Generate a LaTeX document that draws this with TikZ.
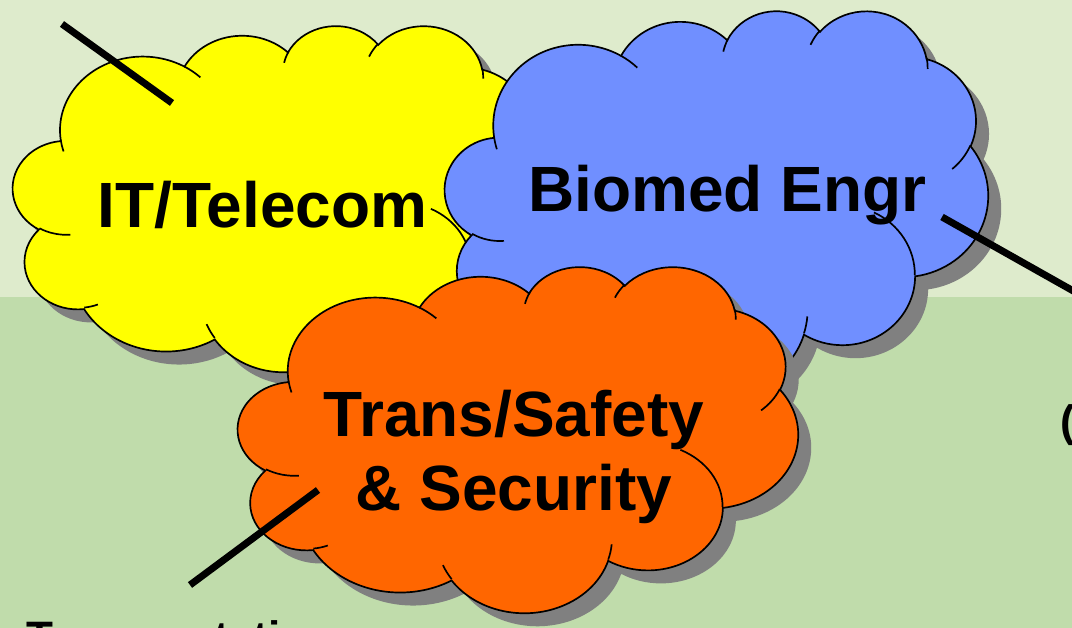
\documentclass[tikz,border=0pt]{standalone}
\usepackage{fontspec}
\setmainfont{Liberation Sans}
\definecolor{bgtop}{HTML}{DEEBCC}
\definecolor{bgbottom}{HTML}{C0DCAB}
\definecolor{cloudyellow}{HTML}{FFFF00}
\definecolor{cloudblue}{HTML}{708FFF}
\definecolor{cloudorange}{HTML}{FF6600}
\definecolor{cloudshadow}{HTML}{808080}
% one puff: x radius, y radius, start and sweep (seen angles)
\newcommand\puff[4]{arc[x radius=#1, y radius=#2,
	start angle={atan2(#1*sin(#3),#2*cos(#3))},
	delta angle={Mod(atan2(#1*sin(#3+#4),#2*cos(#3+#4))-atan2(#1*sin(#3),#2*cos(#3)),360)}]}
% cloud outline in a 43.2 x 43.2 box
\newcommand\cloudoutline{(3.900,14.370)
	\puff{6.753}{9.190}{-190.487}{123.781}
	\puff{5.333}{7.267}{-144.102}{89.945}
	\puff{4.365}{5.945}{-145.808}{99.723}
	\puff{4.857}{6.595}{-130.986}{117.242}
	\puff{5.333}{7.273}{-78.709}{109.027}
	\puff{6.775}{9.220}{-46.267}{130.269}
	\puff{5.785}{7.867}{0.625}{114.033}
	\puff{6.752}{9.215}{22.452}{115.173}
	\puff{7.720}{10.543}{66.243}{75.711}
	\puff{4.360}{5.918}{-274.942}{146.736}
	\puff{4.345}{5.945}{-246.829}{152.519} -- cycle}
% the little creases inside
\newcommand\cloudcreases{
	(4.693,26.177) \puff{4.345}{5.945}{86.742}{26.430}
	(6.928,34.899) \puff{4.360}{5.918}{73.610}{11.447}
	(16.478,39.090) \puff{6.752}{9.215}{137.624}{14.081}
	(28.827,34.751) \puff{6.752}{9.215}{6.453}{15.998}
	(34.129,22.954) \puff{5.785}{7.867}{-70.292}{70.917}
	(41.798,15.354) \puff{5.333}{7.273}{30.318}{27.752}
	(38.324,5.426) \puff{4.857}{6.595}{-13.744}{14.859}
	(29.078,3.952) \puff{4.857}{6.595}{-149.181}{18.195}
	(22.141,4.720) \puff{4.365}{5.945}{-163.494}{17.686}
	(14.000,5.192) \puff{6.753}{9.190}{-66.707}{12.319}
	(4.127,15.789) \puff{6.753}{9.190}{157.654}{11.858}}
\tikzset{
	cloudedge/.style={draw=black, line width=1.2pt},
	callout/.style={draw, line width=5pt},
	cloudtext/.style={font=\fontsize{45.5}{52}\selectfont\bfseries, inner sep=0pt, align=center},
	sidetext/.style={font=\fontsize{31.3}{36}\selectfont\bfseries, inner sep=0pt},
}

\begin{document}
\begin{tikzpicture}[x=0.025cm, y=-0.025cm]
	\useasboundingbox (0,0) rectangle (1072,628);
	\clip (0,0) rectangle (1072,628);
	\fill[bgtop] (0,0) rectangle (1072,297);
	\fill[bgbottom] (0,297) rectangle (1072,628);

	% clouds: left, top, width, height, colour
	\foreach \cx/\cy/\cw/\ch/\cc in {13/25/529/346/cloudyellow, 445/10/543/381/cloudblue, 238/266/560/346/cloudorange}{
		\begin{scope}[shift={(\cx+13,\cy+13)}, xscale=\cw/43.2, yscale=\ch/43.2]
			\fill[cloudshadow] \cloudoutline;
		\end{scope}
		\begin{scope}[shift={(\cx,\cy)}, xscale=\cw/43.2, yscale=\ch/43.2]
			\filldraw[cloudedge, fill=\cc] \cloudoutline;
			\draw[cloudedge] \cloudcreases;
		\end{scope}
	}

	\coordinate (itTail) at (62,24);
	\coordinate (itTip) at (172,103);
	\coordinate (bioTip) at (942,217);
	\coordinate (bioTail) at (1100,306);
	\coordinate (transTip) at (318,490);
	\coordinate (transTail) at (190,585);
	\draw[callout] (itTail) -- (itTip);
	\draw[callout] (bioTip) -- (bioTail);
	\draw[callout] (transTip) -- (transTail);

	\node[cloudtext, anchor=base] (it) at (262.5,228) {IT/Telecom};
	\node[cloudtext, anchor=base] (bio) at (727.5,212) {Biomed Engr};
	\node[cloudtext, anchor=center] (trans) at (514,457) {Trans/Safety\\\& Security};
	\node[sidetext, anchor=base west] (transport) at (26,652) {Transportation};
	\node[sidetext, anchor=base west] (paren) at (1060.5,437) {(};
\end{tikzpicture}
\end{document}
